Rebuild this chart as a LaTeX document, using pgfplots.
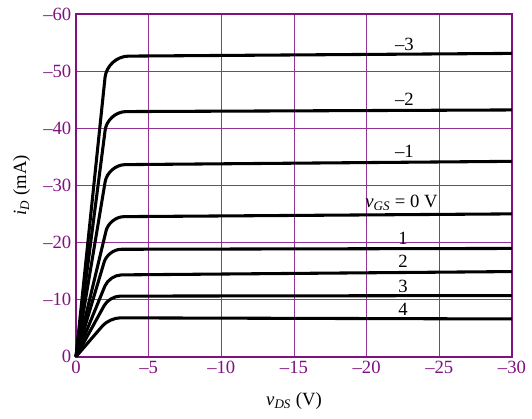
\documentclass[border=0pt]{standalone}
\usepackage{fontspec}
\setmainfont{Liberation Serif}
\usepackage{pgfplots}
\pgfplotsset{compat=1.18}
\definecolor{purp}{RGB}{128,18,128}
\definecolor{gridp}{RGB}{150,50,150}
\newcommand{\lbl}{\fontsize{14}{16}\selectfont}
\begin{document}
\begin{tikzpicture}
\begin{axis}[
    scale only axis,
    width=327pt, height=257pt,
    x dir=reverse, y dir=reverse,
    xmin=-30, xmax=0, ymin=-60, ymax=0,
    xtick={0,-5,-10,-15,-20,-25,-30},
    xticklabels={0,–5,–10,–15,–20,–25,–30},
    ytick={0,-10,-20,-30,-40,-50,-60},
    yticklabels={0,–10,–20,–30,–40,–50,–60},
    major tick length=0pt,
    grid=major,
    grid style={gridp, line width=0.6pt},
    axis line style={purp, line width=1.5pt},
    tick label style={purp, font=\lbl},
    xlabel={\textit{v}\textsubscript{\textit{DS}} (V)},
    ylabel={\textit{i}\textsubscript{\textit{D}} (mA)},
    label style={font=\lbl},
    xlabel style={yshift=-7pt},
    ylabel style={yshift=3pt},
    every axis plot/.append style={black, line width=2.3pt, line join=round},
    clip=false,
]
\addplot[rounded corners=16pt] coordinates {(0,0) (-2.15,-52.6) (-30,-53.1)};
\addplot[rounded corners=14pt] coordinates {(0,0) (-2.17,-42.9) (-30,-43.2)};
\addplot[rounded corners=13pt] coordinates {(0,0) (-2.2,-33.6) (-30,-34.2)};
\addplot[rounded corners=11pt] coordinates {(0,0) (-2.3,-24.5) (-30,-25.0)};
\addplot[rounded corners=10pt] coordinates {(0,0) (-2.2,-18.8) (-30,-18.95)};
\addplot[rounded corners=9pt] coordinates {(0,0) (-2.3,-14.3) (-30,-14.9)};
\addplot[rounded corners=8pt] coordinates {(0,0) (-2.3,-10.6) (-30,-10.7)};
\addplot[rounded corners=8pt] coordinates {(0,0) (-2.3,-6.8) (-30,-6.6)};
\node[font=\lbl] at (axis cs:-22.6,-54.6) {–3};
\node[font=\lbl] at (axis cs:-22.6,-45.0) {–2};
\node[font=\lbl] at (axis cs:-22.6,-35.9) {–1};
\node[font=\lbl] at (axis cs:-22.4,-26.9) {\textit{v}\textsubscript{\textit{GS}} = 0 V};
\node[font=\lbl] at (axis cs:-22.5,-20.8) {1};
\node[font=\lbl] at (axis cs:-22.5,-16.7) {2};
\node[font=\lbl] at (axis cs:-22.5,-12.3) {3};
\node[font=\lbl] at (axis cs:-22.5,-8.2) {4};
\coordinate (sw) at (axis description cs:0,0);
\coordinate (ne) at (axis description cs:1,1);
\end{axis}
\pgfresetboundingbox
\path ([shift={(-57pt,-46.5pt)}]sw) rectangle ([shift={(15pt,10.5pt)}]ne);
\end{tikzpicture}
\end{document}
